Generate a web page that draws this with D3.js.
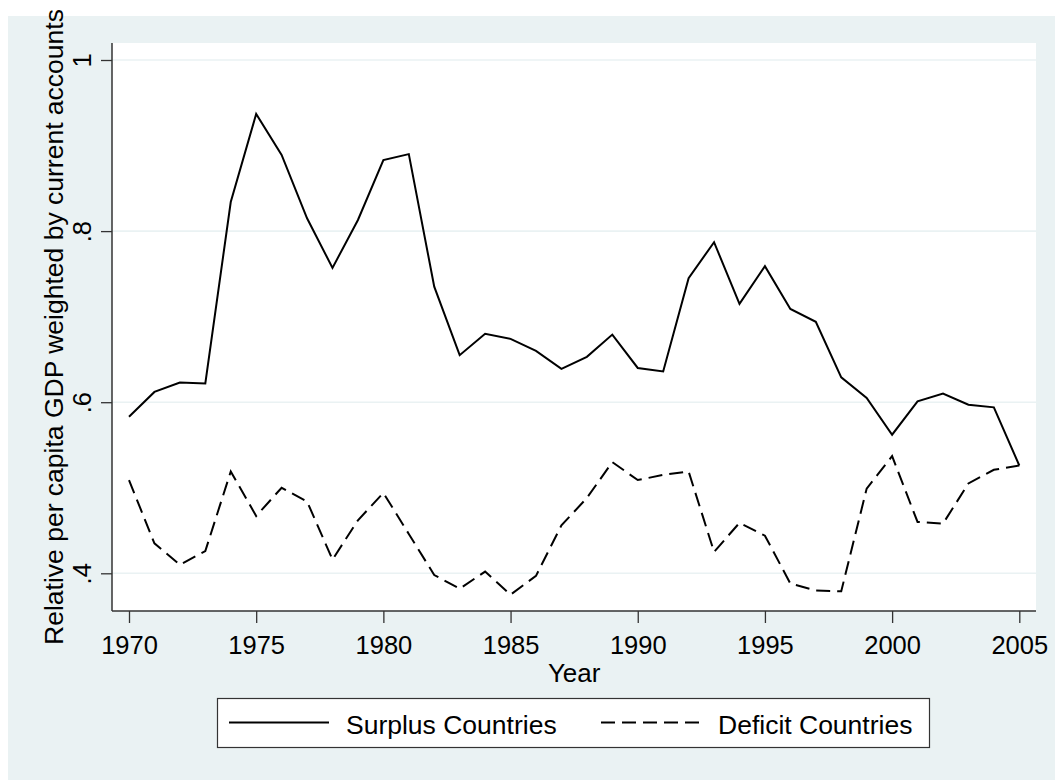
<!DOCTYPE html>
<html>
<head>
<meta charset="utf-8">
<script src="https://cdn.jsdelivr.net/npm/d3@7"></script>
<style>
  body { margin: 0; background: #fff; }
  text { font-family: Arial, "Liberation Sans", sans-serif; fill: #000; }
</style>
</head>
<body>
<svg id="chart" width="1055" height="780"></svg>
<script>
// data
const years = [1970,1971,1972,1973,1974,1975,1976,1977,1978,1979,1980,1981,1982,1983,1984,1985,1986,1987,
  1988,1989,1990,1991,1992,1993,1994,1995,1996,1997,1998,1999,2000,2001,2002,2003,2004,2005]
const surplus = [0.583,0.612,0.623,0.622,0.834,0.937,0.889,0.815,0.757,0.813,0.883,0.890,0.735,0.655,0.680,0.674,0.660,0.639,
  0.653,0.679,0.640,0.636,0.745,0.787,0.715,0.759,0.709,0.694,0.629,0.605,0.562,0.601,0.610,0.597,0.594,0.526]
const deficit = [0.509,0.435,0.410,0.426,0.519,0.467,0.500,0.484,0.416,0.462,0.494,0.446,0.398,0.382,0.402,0.375,0.397,0.456,
  0.488,0.530,0.509,0.515,0.519,0.425,0.459,0.444,0.388,0.380,0.379,0.499,0.537,0.460,0.458,0.505,0.521,0.526]
const yTicks = [0.4, 0.6, 0.8, 1]
const yTickLabels = ['.4', '.6', '.8', '1']
const xTicks = [1970, 1975, 1980, 1985, 1990, 1995, 2000, 2005]
const seriesNames = ['Surplus Countries', 'Deficit Countries']

const svg = d3.select('#chart')
const bg = '#eaf2f3'
const plot = {left: 112, right: 1036, top: 43, bottom: 611}

// outer graph region
svg.append('rect')
  .attr('x', 8).attr('y', 16).attr('width', 1047).attr('height', 764)
  .attr('fill', bg)

svg.append('rect')
  .attr('x', plot.left).attr('y', plot.top)
  .attr('width', plot.right - plot.left).attr('height', plot.bottom - plot.top)
  .attr('fill', '#fff')

const x = d3.scaleLinear().domain([1970, 2005]).range([129, 1019.3])
const y = d3.scaleLinear().domain([0.4, 1]).range([573.3, 60])

// grid
svg.append('g').selectAll('line')
  .data(yTicks)
  .join('line')
    .attr('x1', plot.left).attr('x2', plot.right)
    .attr('y1', d => y(d)).attr('y2', d => y(d))
    .attr('stroke', bg).attr('stroke-width', 1.6)

// y axis
const yAxis = svg.append('g')
  .attr('transform', 'translate(' + plot.left + ',0)')
  .call(d3.axisLeft(y).tickValues(yTicks).tickSize(11).tickFormat((d, i) => yTickLabels[i]))
yAxis.select('.domain').remove()
yAxis.selectAll('.tick line').attr('stroke', '#333').attr('stroke-width', 1.3)
yAxis.selectAll('.tick text')
  .attr('x', null).attr('dy', null).attr('y', 0)
  .attr('transform', 'translate(-21,0) rotate(-90)')
  .attr('text-anchor', 'middle')
  .style('font-size', '25.5px')
  .style('font-family', 'Arial, "Liberation Sans", sans-serif')
svg.append('line')
  .attr('x1', plot.left).attr('x2', plot.left)
  .attr('y1', plot.top).attr('y2', plot.bottom)
  .attr('stroke', '#333').attr('stroke-width', 1.5)

// x axis
const xAxis = svg.append('g')
  .attr('transform', 'translate(0,' + plot.bottom + ')')
  .call(d3.axisBottom(x).tickValues(xTicks).tickSize(12).tickFormat(d3.format('d')))
xAxis.select('.domain').remove()
xAxis.selectAll('.tick line').attr('stroke', '#333').attr('stroke-width', 1.3)
xAxis.selectAll('.tick text')
  .attr('y', 43).attr('dy', null)
  .style('font-size', '25.5px')
  .style('font-family', 'Arial, "Liberation Sans", sans-serif')
svg.append('line')
  .attr('x1', plot.left).attr('x2', plot.right)
  .attr('y1', plot.bottom).attr('y2', plot.bottom)
  .attr('stroke', '#333').attr('stroke-width', 1.5)

// titles
svg.append('text')
  .attr('x', x(1987.5)).attr('y', 682)
  .attr('text-anchor', 'middle')
  .style('font-size', '26px')
  .text('Year')

svg.append('text')
  .attr('transform', 'translate(63,327) rotate(-90)')
  .attr('text-anchor', 'middle')
  .style('font-size', '26.5px')
  .text('Relative per capita GDP weighted by current accounts')

// lines
const line = d3.line()
  .x((d, i) => x(years[i]))
  .y(d => y(d))

svg.append('path')
  .datum(surplus)
  .attr('fill', 'none').attr('stroke', '#000').attr('stroke-width', 2)
  .attr('stroke-linejoin', 'miter')
  .attr('d', line)

svg.append('path')
  .datum(deficit)
  .attr('fill', 'none').attr('stroke', '#000').attr('stroke-width', 2)
  .attr('stroke-dasharray', '14,7')
  .attr('d', line)

// legend
const leg = svg.append('g')
leg.append('rect')
  .attr('x', 217.5).attr('y', 698.5).attr('width', 712).attr('height', 49)
  .attr('fill', '#fff').attr('stroke', '#333').attr('stroke-width', 1.2)
leg.append('line')
  .attr('x1', 229).attr('x2', 329).attr('y1', 722.5).attr('y2', 722.5)
  .attr('stroke', '#000').attr('stroke-width', 2)
leg.append('line')
  .attr('x1', 601).attr('x2', 701).attr('y1', 722.5).attr('y2', 722.5)
  .attr('stroke', '#000').attr('stroke-width', 2)
  .attr('stroke-dasharray', '14,7')
leg.append('text')
  .attr('x', 346).attr('y', 734)
  .style('font-size', '26.5px')
  .text(seriesNames[0])
leg.append('text')
  .attr('x', 718).attr('y', 734)
  .style('font-size', '26.5px')
  .text(seriesNames[1])
</script>
</body>
</html>
